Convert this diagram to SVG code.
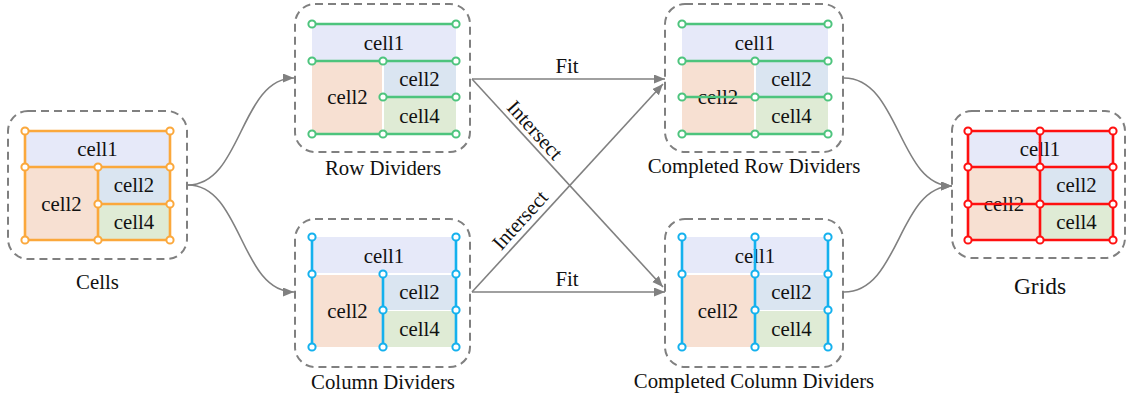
<svg xmlns="http://www.w3.org/2000/svg" width="1127" height="395" viewBox="0 0 1127 395">
<defs>
<style>
.box{fill:none;stroke:#808080;stroke-width:2;stroke-dasharray:8 5}
.f1{fill:#E6E9F9}.f2{fill:#F7E0D2}.f3{fill:#DAE5F1}.f4{fill:#DFEBD5}
.t{font-family:"Liberation Serif","Times New Roman",serif;font-size:20.8px;fill:#111;text-anchor:middle}
.lo{fill:none;stroke:#FBA83C;stroke-width:2.6}
.lg{fill:none;stroke:#4DC47D;stroke-width:2.6}
.lb{fill:none;stroke:#14B1EE;stroke-width:2.6}
.lr{fill:none;stroke:#FF1010;stroke-width:2.6}
.po circle{fill:#fff;stroke:#FBA83C;stroke-width:2}
.pg circle{fill:#fff;stroke:#4DC47D;stroke-width:2}
.pb circle{fill:#fff;stroke:#14B1EE;stroke-width:2}
.pr circle{fill:#fff;stroke:#FF1010;stroke-width:2}
.edge{fill:none;stroke:#808080;stroke-width:1.6;marker-end:url(#arr)}
</style>
<marker id="arr" markerUnits="userSpaceOnUse" markerWidth="12" markerHeight="10" refX="11" refY="4.5" orient="auto">
<path d="M0,0 L11,4.5 L0,9 z" fill="#808080"/>
</marker>
</defs>
<rect width="1127" height="395" fill="#fff"/>

<g id="connectors">
<path class="edge" d="M188,185 C242,185 240,78 294,78"/>
<path class="edge" d="M188,185 C242,185 240,292 294,292"/>
<path class="edge" d="M472,79 L665,79"/>
<path class="edge" d="M472,292 L665,292"/>
<path class="edge" d="M472,79 L663,287"/>
<path class="edge" d="M472,292 L663,84"/>
<path class="edge" d="M844,78 C900,78 898,186 952,186"/>
<path class="edge" d="M844,292 C900,292 898,186 952,186"/>
<text class="t" x="567" y="73">Fit</text>
<text class="t" x="567" y="286">Fit</text>
<text class="t" transform="translate(535,130) rotate(47.8)" y="7">Intersect</text>
<text class="t" transform="translate(520,220) rotate(-47.8)" y="7">Intersect</text>
</g>

<g id="cells">
<rect class="box" x="8" y="111" width="179" height="148" rx="20"/>
<rect class="f1" x="25" y="131" width="145" height="36"/>
<rect class="f2" x="25" y="167" width="73" height="73"/>
<rect class="f3" x="98" y="167" width="72" height="37"/>
<rect class="f4" x="98" y="204" width="72" height="36"/>
<text class="t" x="97.5" y="156">cell1</text>
<text class="t" x="61.5" y="211">cell2</text>
<text class="t" x="134" y="192">cell2</text>
<text class="t" x="134" y="229">cell4</text>
<path class="lo" d="M25,131H170M25,167H170M98,204H170M25,240H170M25,131V240M98,167V240M170,131V240"/>
<g class="po">
<circle cx="25" cy="131" r="3.6"/><circle cx="170" cy="131" r="3.6"/>
<circle cx="25" cy="167" r="3.6"/><circle cx="98" cy="167" r="3.6"/><circle cx="170" cy="167" r="3.6"/>
<circle cx="98" cy="204" r="3.6"/><circle cx="170" cy="204" r="3.6"/>
<circle cx="25" cy="240" r="3.6"/><circle cx="98" cy="240" r="3.6"/><circle cx="170" cy="240" r="3.6"/>
</g>
<text class="t" x="97.5" y="289">Cells</text>
</g>

<g id="row-dividers">
<rect class="box" x="295" y="4" width="175" height="148" rx="20"/>
<rect class="f1" x="312" y="24" width="144" height="36"/>
<rect class="f2" x="312" y="62" width="70" height="72"/>
<rect class="f3" x="384" y="62" width="72" height="34"/>
<rect class="f4" x="384" y="98" width="72" height="36"/>
<text class="t" x="384" y="50">cell1</text>
<text class="t" x="347.5" y="104">cell2</text>
<text class="t" x="419.5" y="86">cell2</text>
<text class="t" x="419.5" y="122.5">cell4</text>
<path class="lg" d="M312,24H456M312,61H456M383,97H456M312,134H456"/>
<g class="pg">
<circle cx="312" cy="24" r="3.6"/><circle cx="456" cy="24" r="3.6"/>
<circle cx="312" cy="61" r="3.6"/><circle cx="383" cy="61" r="3.6"/><circle cx="456" cy="61" r="3.6"/>
<circle cx="383" cy="97" r="3.6"/><circle cx="456" cy="97" r="3.6"/>
<circle cx="312" cy="134" r="3.6"/><circle cx="383" cy="134" r="3.6"/><circle cx="456" cy="134" r="3.6"/>
</g>
<text class="t" x="383" y="175">Row Dividers</text>
</g>

<g id="column-dividers">
<rect class="box" x="295" y="219" width="175" height="148" rx="20"/>
<rect class="f1" x="312" y="237" width="144" height="36"/>
<rect class="f2" x="312" y="275" width="70" height="72"/>
<rect class="f3" x="384" y="275" width="72" height="35"/>
<rect class="f4" x="384" y="311" width="72" height="36"/>
<text class="t" x="384" y="263">cell1</text>
<text class="t" x="347.5" y="317.5">cell2</text>
<text class="t" x="419.5" y="299">cell2</text>
<text class="t" x="419.5" y="335.5">cell4</text>
<path class="lb" d="M312,237V347M383,274V347M456,237V347"/>
<g class="pb">
<circle cx="312" cy="237" r="3.6"/><circle cx="312" cy="274" r="3.6"/><circle cx="312" cy="347" r="3.6"/>
<circle cx="383" cy="274" r="3.6"/><circle cx="383" cy="310" r="3.6"/><circle cx="383" cy="347" r="3.6"/>
<circle cx="456" cy="237" r="3.6"/><circle cx="456" cy="274" r="3.6"/><circle cx="456" cy="310" r="3.6"/><circle cx="456" cy="347" r="3.6"/>
</g>
<text class="t" x="383" y="389">Column Dividers</text>
</g>

<g id="completed-row-dividers">
<rect class="box" x="665" y="4" width="178" height="148" rx="20"/>
<rect class="f1" x="682" y="24" width="146" height="36"/>
<rect class="f2" x="682" y="62" width="72" height="72"/>
<rect class="f3" x="756" y="62" width="72" height="34"/>
<rect class="f4" x="756" y="98" width="72" height="36"/>
<text class="t" x="755" y="50">cell1</text>
<text class="t" x="718" y="104">cell2</text>
<text class="t" x="791.5" y="86">cell2</text>
<text class="t" x="791.5" y="122.5">cell4</text>
<path class="lg" d="M682,24H828M682,61H828M682,97H828M682,134H828"/>
<g class="pg">
<circle cx="682" cy="24" r="3.6"/><circle cx="828" cy="24" r="3.6"/>
<circle cx="682" cy="61" r="3.6"/><circle cx="755" cy="61" r="3.6"/><circle cx="828" cy="61" r="3.6"/>
<circle cx="682" cy="97" r="3.6"/><circle cx="755" cy="97" r="3.6"/><circle cx="828" cy="97" r="3.6"/>
<circle cx="682" cy="134" r="3.6"/><circle cx="755" cy="134" r="3.6"/><circle cx="828" cy="134" r="3.6"/>
</g>
<text class="t" x="754" y="173">Completed Row Dividers</text>
</g>

<g id="completed-column-dividers">
<rect class="box" x="665" y="219" width="178" height="148" rx="20"/>
<rect class="f1" x="682" y="237" width="146" height="36"/>
<rect class="f2" x="682" y="275" width="72" height="72"/>
<rect class="f3" x="756" y="275" width="72" height="35"/>
<rect class="f4" x="756" y="311" width="72" height="36"/>
<text class="t" x="755" y="263">cell1</text>
<text class="t" x="718" y="317.5">cell2</text>
<text class="t" x="791.5" y="299">cell2</text>
<text class="t" x="791.5" y="335.5">cell4</text>
<path class="lb" d="M682,237V347M755,237V347M828,237V347"/>
<g class="pb">
<circle cx="682" cy="237" r="3.6"/><circle cx="682" cy="274" r="3.6"/><circle cx="682" cy="347" r="3.6"/>
<circle cx="755" cy="237" r="3.6"/><circle cx="755" cy="274" r="3.6"/><circle cx="755" cy="310" r="3.6"/><circle cx="755" cy="347" r="3.6"/>
<circle cx="828" cy="237" r="3.6"/><circle cx="828" cy="274" r="3.6"/><circle cx="828" cy="310" r="3.6"/><circle cx="828" cy="347" r="3.6"/>
</g>
<text class="t" x="754" y="388">Completed Column Dividers</text>
</g>

<g id="grids">
<rect class="box" x="952" y="111" width="173" height="147" rx="20"/>
<rect class="f1" x="968" y="131" width="145" height="36"/>
<rect class="f2" x="968" y="167" width="72" height="73"/>
<rect class="f3" x="1040" y="167" width="73" height="37"/>
<rect class="f4" x="1040" y="204" width="73" height="36"/>
<text class="t" x="1040" y="156">cell1</text>
<text class="t" x="1004" y="211">cell2</text>
<text class="t" x="1076.5" y="192">cell2</text>
<text class="t" x="1076.5" y="229">cell4</text>
<path class="lr" d="M968,131H1113M968,167H1113M968,204H1113M968,240H1113M968,131V240M1040,131V240M1113,131V240"/>
<g class="pr">
<circle cx="968" cy="131" r="3.6"/><circle cx="1040" cy="131" r="3.6"/><circle cx="1113" cy="131" r="3.6"/>
<circle cx="968" cy="167" r="3.6"/><circle cx="1040" cy="167" r="3.6"/><circle cx="1113" cy="167" r="3.6"/>
<circle cx="968" cy="204" r="3.6"/><circle cx="1040" cy="204" r="3.6"/><circle cx="1113" cy="204" r="3.6"/>
<circle cx="968" cy="240" r="3.6"/><circle cx="1040" cy="240" r="3.6"/><circle cx="1113" cy="240" r="3.6"/>
</g>
<text class="t" x="1040" y="294" style="font-size:23.5px">Grids</text>
</g>
</svg>
